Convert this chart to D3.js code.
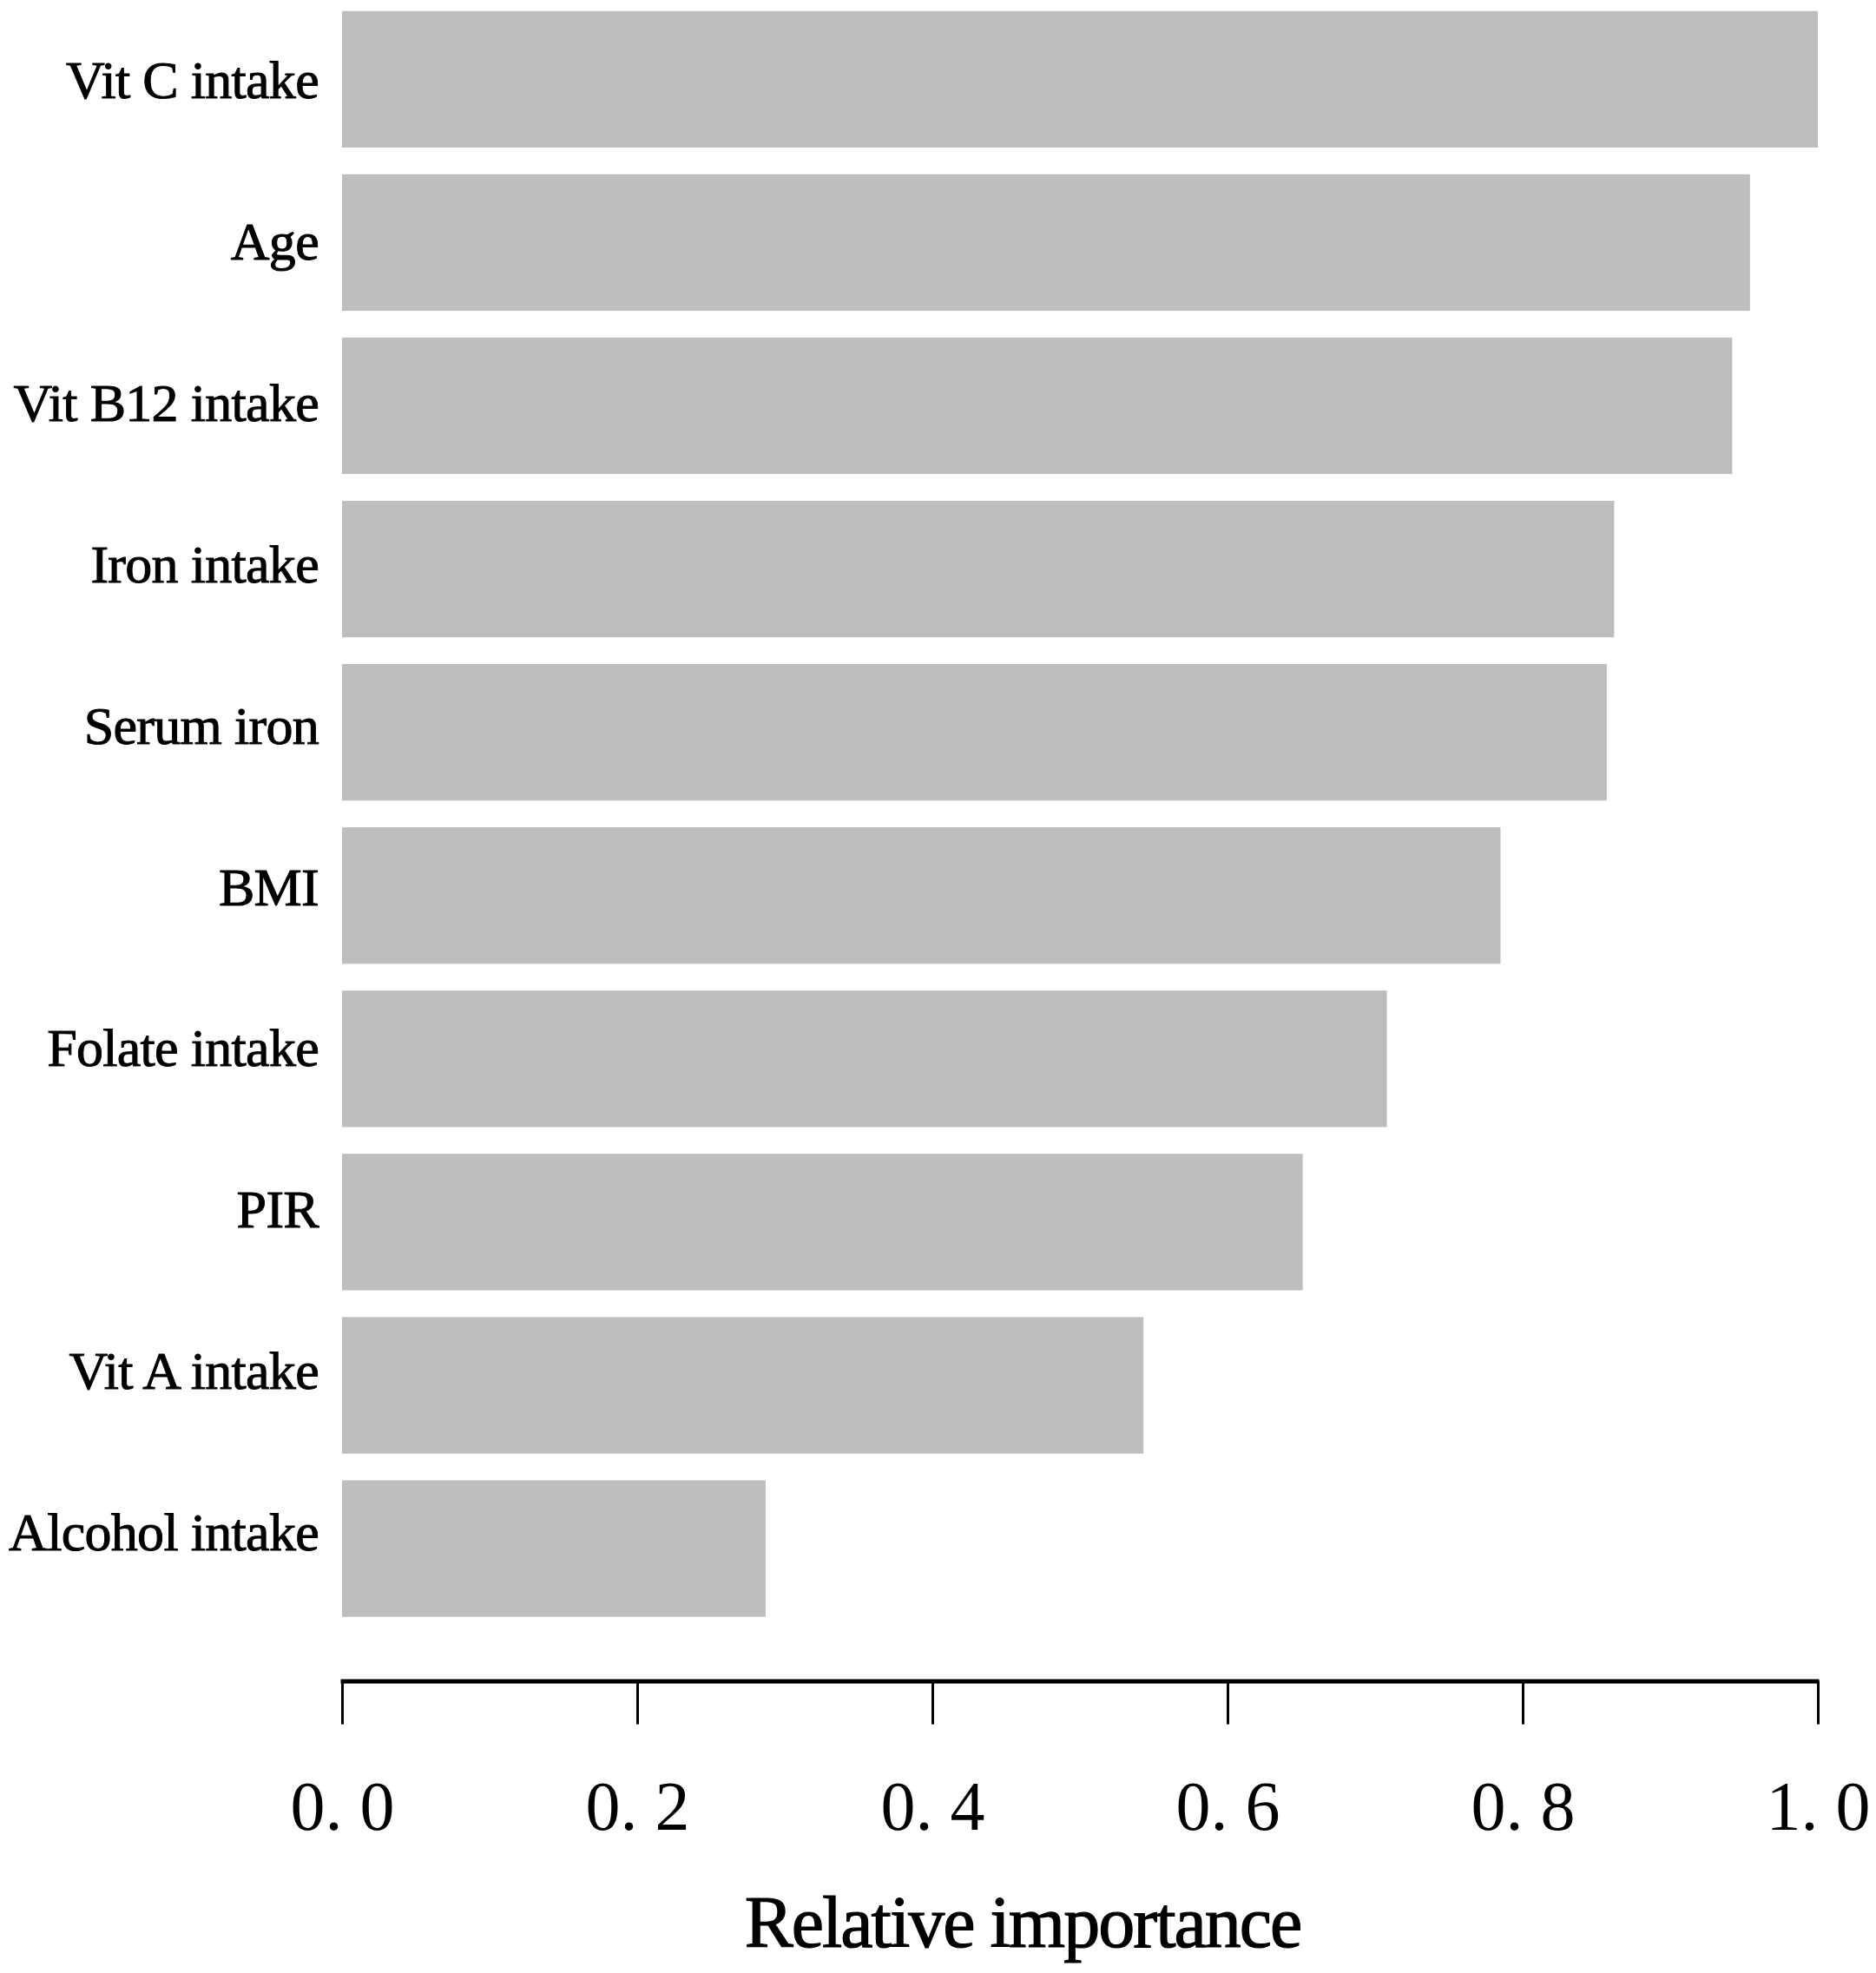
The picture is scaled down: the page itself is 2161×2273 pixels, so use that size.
<!DOCTYPE html>
<html>
<head>
<meta charset="utf-8">
<script src="https://cdn.jsdelivr.net/npm/d3@7"></script>
<style>
  html, body { margin: 0; padding: 0; background: #ffffff; }
  svg { display: block; }
</style>
</head>
<body>
<div id="chart"></div>
<script>
// ---- data ----
const categories = ["Vit C intake", "Age", "Vit B12 intake", "Iron intake", "Serum iron",
                    "BMI", "Folate intake", "PIR", "Vit A intake", "Alcohol intake"];
const importance = [1.000, 0.954, 0.942, 0.862, 0.857, 0.785, 0.708, 0.651, 0.543, 0.287];
const xTicks = [0, 0.2, 0.4, 0.6, 0.8, 1.0];
const xTickLabels = ["0. 0", "0. 2", "0. 4", "0. 6", "0. 8", "1. 0"];
const xTitle = "Relative importance";

// ---- layout ----
const W = 2161, H = 2273;
const svg = d3.select("#chart").append("svg")
  .attr("width", W).attr("height", H)
  .attr("viewBox", `0 0 ${W} ${H}`);

svg.append("rect").attr("width", W).attr("height", H).attr("fill", "#ffffff");

const x = d3.scaleLinear().domain([0, 1]).range([394, 2094]);
const y = d3.scaleBand().domain(categories)
  .range([-2.7, 1878.1]).paddingInner(0.1637).paddingOuter(0.0818);
// label baselines (slightly tighter pitch than the bars in the original)
const yLab = d3.scalePoint().domain(categories).range([113.3, 1786]);

const data = categories.map((c, i) => ({ c, v: importance[i] }));

// bars
svg.append("g").selectAll("rect").data(data).join("rect")
  .attr("x", x(0))
  .attr("y", d => y(d.c))
  .attr("width", d => x(d.v) - x(0))
  .attr("height", y.bandwidth())
  .attr("fill", "#bebebe");

// category labels
svg.append("g").selectAll("text").data(data).join("text")
  .attr("x", 367)
  .attr("y", d => yLab(d.c))
  .attr("text-anchor", "end")
  .attr("font-family", "'Liberation Serif', 'Times New Roman', serif")
  .attr("font-size", 62)
  .attr("letter-spacing", -0.7)
  .attr("fill", "#000")
  .attr("stroke", "#000")
  .attr("stroke-width", 1)
  .text(d => d.c);

// x axis
const axisY = 1936.5;
const gx = svg.append("g")
  .attr("transform", `translate(0,${axisY})`)
  .call(d3.axisBottom(x).tickValues(xTicks)
    .tickFormat((d, i) => xTickLabels[i])
    .tickSize(50).tickSizeOuter(0));

gx.select(".domain").attr("stroke", "#000").attr("stroke-width", 5)
  .attr("d", `M${x(0) - 1.5},0.5H${x(1) + 1.5}`);
gx.selectAll(".tick line").attr("stroke", "#000").attr("stroke-width", 3).attr("y1", 0);
gx.selectAll(".tick text")
  .attr("y", 2108 - axisY).attr("dy", 0)
  .attr("font-family", "'Liberation Serif', 'Times New Roman', serif")
  .attr("font-size", 80)
  .attr("fill", "#000");

// axis title
svg.append("text")
  .attr("x", 1178).attr("y", 2243)
  .attr("text-anchor", "middle")
  .attr("font-family", "'Liberation Serif', 'Times New Roman', serif")
  .attr("font-size", 84)
  .attr("letter-spacing", -2)
  .attr("fill", "#000")
  .attr("stroke", "#000")
  .attr("stroke-width", 1.2)
  .text(xTitle);
</script>
</body>
</html>
